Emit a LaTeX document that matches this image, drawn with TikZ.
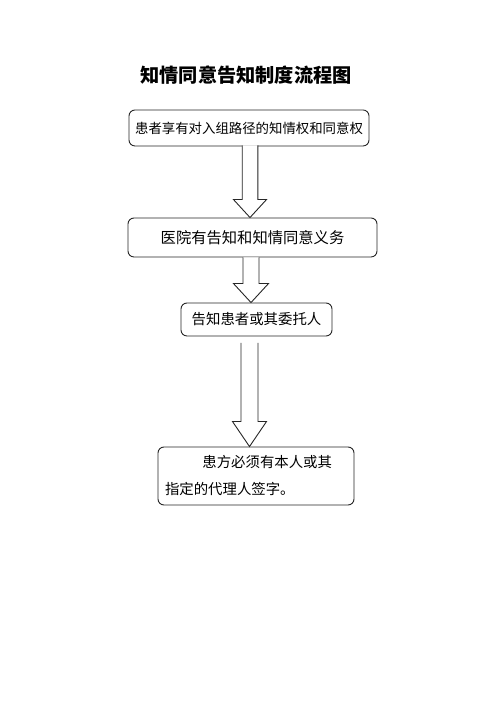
\documentclass[tikz,border=0pt]{standalone}
\usepackage{fontspec}
\newfontfamily\cjk{Noto Sans CJK SC}
\usetikzlibrary{calc}
\XeTeXlinebreaklocale "zh"
\begin{document}
\begin{tikzpicture}[x=1pt,y=1pt,
  flowbox/.style={draw=black!85,line width=0.9pt,rounded corners=6pt,inner sep=0pt,align=center},
  arrowline/.style={draw=black!85,line width=0.9pt,line join=miter,fill=white}]
\useasboundingbox[fill=white] (0,0) rectangle (500,708);
\node[font={\cjk\bfseries\fontsize{19.2}{23}\selectfont}] (title) at (246,633) {知情同意告知制度流程图};
\node[flowbox,minimum width=240,minimum height=36,font={\cjk\fontsize{13.4}{16}\selectfont}] (b1) at (249,580) {患者享有对入组路径的知情权和同意权};
\node[flowbox,minimum width=249,minimum height=39,font={\cjk\fontsize{15.3}{18}\selectfont}] (b2) at (252.5,470.5) {医院有告知和知情同意义务};
\node[flowbox,minimum width=151,minimum height=33,font={\cjk\fontsize{14.4}{17}\selectfont}] (b3) at (256.5,388.5) {告知患者或其委托人};
\node[flowbox,minimum width=196,minimum height=58,text width=182,align=left,font={\cjk\fontsize{14.4}{27}\selectfont}] (b4) at (256,232) {\hspace*{2.6em}患方必须有本人或其\\指定的代理人签字。};
\newcommand\blockarr[5]{%
  \path[arrowline] let \p1=(#1), \p2=(#2) in
    (\x1-#4,\y1) -- (\x1-#4,\y2+#3) -- (\x1-#5,\y2+#3) -- (\x2,\y2) --
    (\x1+#5,\y2+#3) -- (\x1+#4,\y2+#3) -- (\x1+#4,\y1);}
\coordinate (a1s) at (250,708-145.5);
\coordinate (a1e) at (a1s |- b2.north);
\blockarr{a1s}{a1e}{18}{7.8}{16.5}
\coordinate (a2s) at (251,708-257.5);
\coordinate (a2e) at (a2s |- b3.north);
\blockarr{a2s}{a2e}{19}{8}{17.5}
\coordinate (a3s) at (249.5,708-343);
\coordinate (a3e) at (a3s |- b4.north);
\blockarr{a3s}{a3e}{25}{8.5}{17}
\end{tikzpicture}
\end{document}
